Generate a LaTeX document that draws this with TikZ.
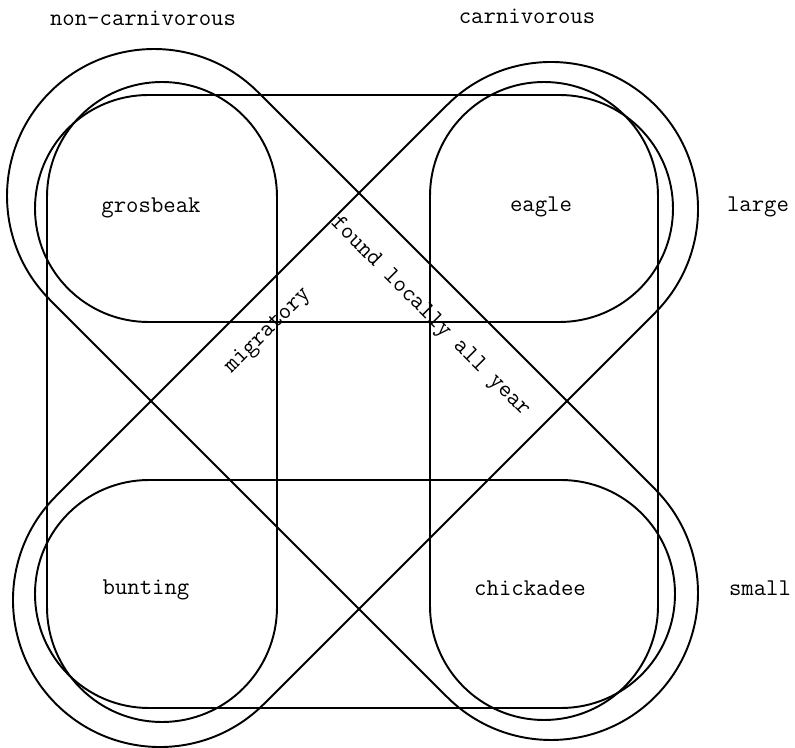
\documentclass[tikz,border=0pt]{standalone}
\usepackage{tikz}
\tikzset{region/.style={line width=1.1pt}}
\tikzset{word/.style={font=\ttfamily\fontsize{13.7}{16}\selectfont}}

\begin{document}
\begin{tikzpicture}[x=0.2mm, y=0.2mm]
	\useasboundingbox (0,0) rectangle (795,747);
	% columns
	\draw[region, rounded corners=23mm] (47,25) rectangle (277,665);
	\draw[region, rounded corners=22.8mm] (430,27) rectangle (658,665);
	% rows
	\draw[region, rounded corners=22.7mm] (35,425) rectangle (673,652);
	\draw[region, rounded corners=22.8mm] (35,39) rectangle (675,267);
	% diagonals
	\begin{scope}[shift={(352.5,352.5)}, rotate=-45]
		\draw[region, rounded corners=29.4mm] (-427.7,-147) rectangle (427.7,147);
	\end{scope}
	\begin{scope}[shift={(355.5,342.5)}, rotate=45]
		\draw[region, rounded corners=29.4mm] (-423.5,-147) rectangle (423.5,147);
	\end{scope}

	\node[word] (noncarn) at (143,729) {non-carnivorous};
	\node[word] (carn) at (527,731) {carnivorous};
	\node[word] (large) at (758,540) {large};
	\node[word] (small) at (760,159) {small};
	\node[word] (grosbeak) at (151,539) {grosbeak};
	\node[word] (eagle) at (541,540) {eagle};
	\node[word] (bunting) at (146,157) {bunting};
	\node[word] (chickadee) at (530,159) {chickadee};
	\node[word, rotate=45] (migratory) at (268,416) {migratory};
	\node[word, rotate=-45] (found) at (430,430) {found locally all year};
\end{tikzpicture}
\end{document}
